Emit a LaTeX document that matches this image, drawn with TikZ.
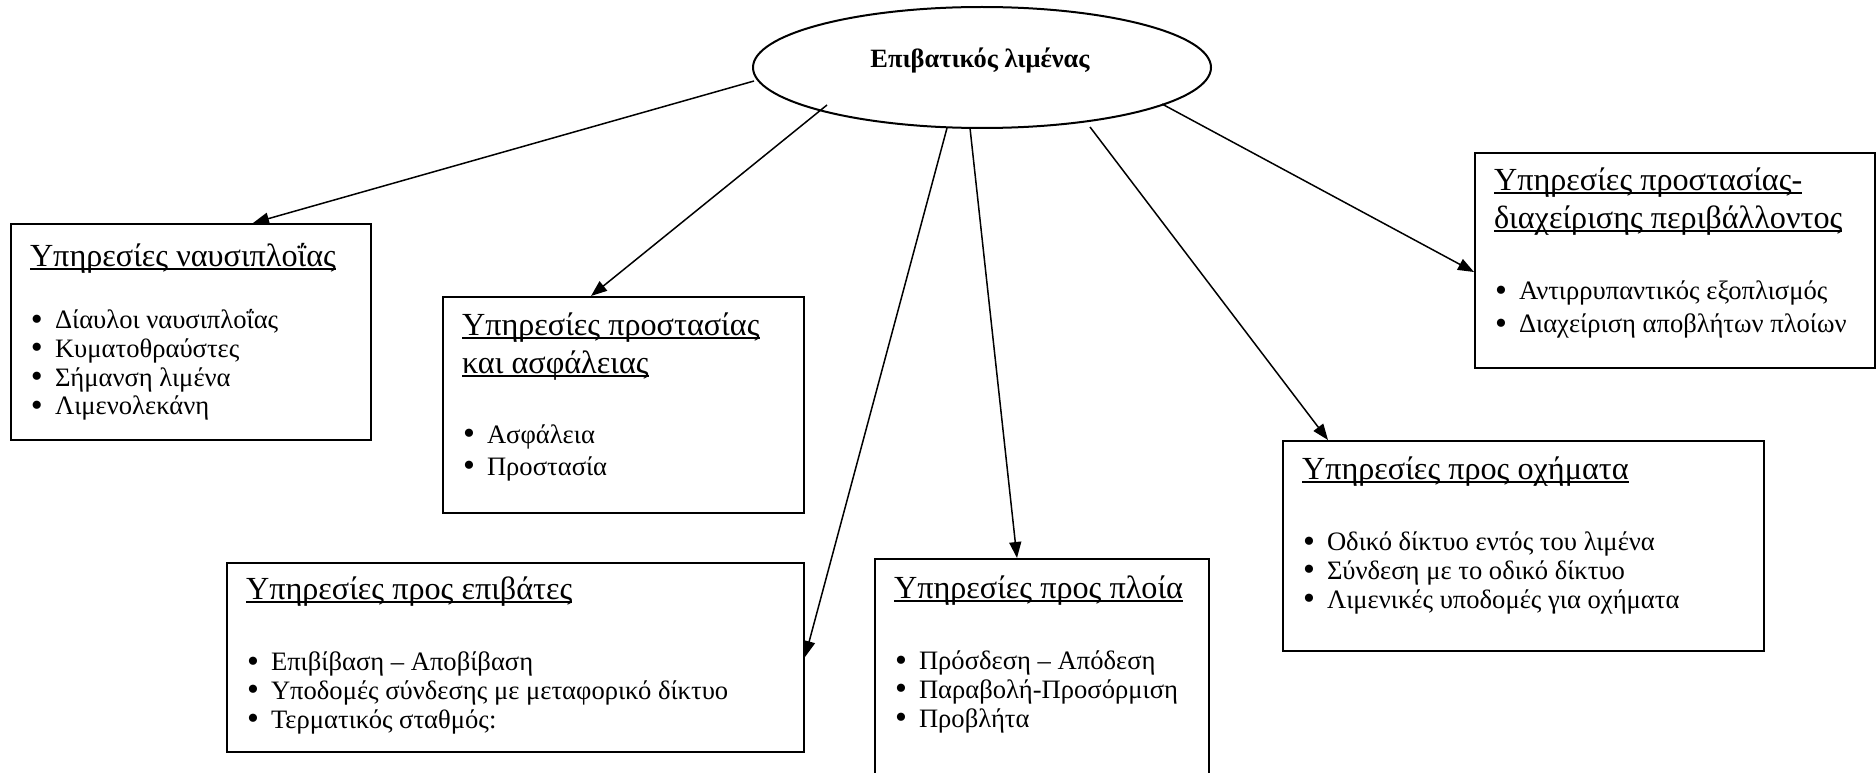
\documentclass[tikz,border=0pt]{standalone}
\usepackage{fontspec}
\setmainfont{Liberation Serif}
\usetikzlibrary{shapes.geometric,arrows.meta,calc}

% underlined heading with a rule set just below the baseline
\newcommand\uln[1]{\leavevmode\setbox0=\hbox{#1}\rlap{\rule[-3.5pt]{\wd0}{1.7pt}}\box0}
\newcommand\ttlfont{\fontsize{32.2pt}{38pt}\selectfont}
\newcommand\bdyfont[1][28.8pt]{\fontsize{26.6pt}{#1}\selectfont}
% list entry with a round bullet of fixed size
\newcommand\itm[1]{\hspace*{1pt}\makebox[24pt][l]{\smash{\raisebox{-1.5pt}{\fontsize{34pt}{20pt}\selectfont•}}}#1\par}
\newcommand\gapln[1][42.8pt]{\vspace{#1}}

\tikzset{
  box/.style={draw, line width=2pt, rectangle, inner sep=0pt, anchor=north west},
  txt/.style={anchor=base west, inner sep=0pt, outer sep=0pt},
  conn/.style={line width=1.5pt, -{Triangle[length=16pt,width=12pt]}}
}

\begin{document}
\begin{tikzpicture}[x=1pt, y=-1pt]
\useasboundingbox (0,0) rectangle (1876,773);

% central ellipse
\node[draw, ellipse, line width=2pt, minimum width=458pt, minimum height=121pt, inner sep=0pt] (hub) at (982,67.5) {};
\node[anchor=base, inner sep=0pt] (hubtxt) at ($(hub.center)+(-2,0)$) {\bfseries\fontsize{26.4pt}{30pt}\selectfont Επιβατικός λιμένας};

% service boxes
\node[box, minimum width=360pt, minimum height=216pt] (nav)  at (10,223)   {};
\node[box, minimum width=361pt, minimum height=216pt] (prot) at (442,296)  {};
\node[box, minimum width=400pt, minimum height=215pt] (env)  at (1474,152) {};
\node[box, minimum width=577pt, minimum height=189pt] (pass) at (226,562)  {};
\node[box, minimum width=334pt, minimum height=250pt] (ship) at (874,558)  {};
\node[box, minimum width=481pt, minimum height=210pt] (veh)  at (1282,440) {};

% box contents
\node[txt] (navtxt) at ($(nav.north west)+(20,43)$) {\parbox[t]{340pt}{%
  \ttlfont\uln{Υπηρεσίες ναυσιπλοΐας}\par\bdyfont\gapln[33.7pt]
  \itm{Δίαυλοι ναυσιπλοΐας}\itm{Κυματοθραύστες}\itm{Σήμανση λιμένα}\itm{Λιμενολεκάνη}}};

\node[txt] (prottxt) at ($(prot.north west)+(20,39)$) {\parbox[t]{340pt}{%
  \ttlfont\uln{Υπηρεσίες προστασίας}\par\uln{και ασφάλειας}\par\bdyfont[32pt]\gapln[38.4pt]
  \itm{Ασφάλεια}\itm{Προστασία}}};

\node[txt] (envtxt) at ($(env.north west)+(20,38)$) {\parbox[t]{380pt}{%
  \ttlfont\uln{Υπηρεσίες προστασίας-}\par\uln{διαχείρισης περιβάλλοντος}\par\bdyfont[33pt]\gapln[38.8pt]
  \itm{Αντιρρυπαντικός εξοπλισμός}\itm{Διαχείριση αποβλήτων πλοίων}}};

\node[txt] (passtxt) at ($(pass.north west)+(20,37)$) {\parbox[t]{550pt}{%
  \ttlfont\uln{Υπηρεσίες προς επιβάτες}\par\bdyfont\gapln
  \itm{Επιβίβαση – Αποβίβαση}\itm{Υποδομές σύνδεσης με μεταφορικό δίκτυο}\itm{Τερματικός σταθμός:}}};

\node[txt] (shiptxt) at ($(ship.north west)+(20,40)$) {\parbox[t]{310pt}{%
  \ttlfont\uln{Υπηρεσίες προς πλοία}\par\bdyfont\gapln
  \itm{Πρόσδεση – Απόδεση}\itm{Παραβολή-Προσόρμιση}\itm{Προβλήτα}}};

\node[txt] (vehtxt) at ($(veh.north west)+(20,39)$) {\parbox[t]{460pt}{%
  \ttlfont\uln{Υπηρεσίες προς οχήματα}\par\bdyfont\gapln
  \itm{Οδικό δίκτυο εντός του λιμένα}\itm{Σύνδεση με το οδικό δίκτυο}\itm{Λιμενικές υποδομές για οχήματα}}};

% connectors from the hub to each box
\draw[conn] ($(hub.center)+(-228,13.5)$) -- ($(nav.north west)+(243,0)$);
\draw[conn] ($(hub.center)+(-155,37.5)$) -- ($(prot.north west)+(149,0)$);
\draw[conn] ($(hub.center)+(-35,60.5)$)  -- ($(pass.north east)+(0,95)$);
\draw[conn] ($(hub.center)+(-12,60.5)$)  -- ($(ship.north west)+(143,0)$);
\draw[conn] ($(hub.center)+(108,59.5)$)  -- ($(veh.north west)+(46,0)$);
\draw[conn] ($(hub.center)+(180,36.5)$)  -- ($(env.north west)+(0,120)$);
\end{tikzpicture}
\end{document}
